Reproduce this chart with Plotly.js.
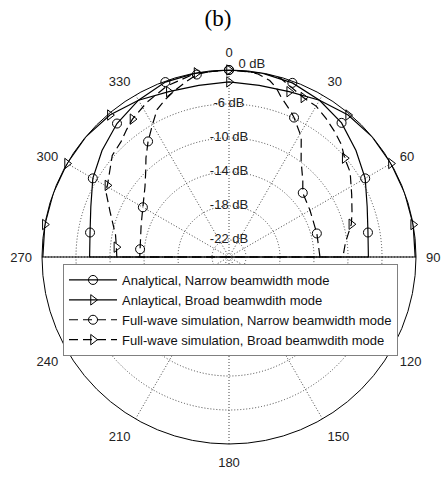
<!DOCTYPE html>
<html>
<head>
<meta charset="utf-8">
<script src="https://cdn.plot.ly/plotly-3.0.1.min.js"></script>
<style>html,body{margin:0;padding:0;background:#fff;}#chart{width:443px;height:477px;}</style>
</head>
<body>
<div id="chart"></div>
<script>
// Radial unit: 0 = centre, 22 = outer ring (labelled 0 dB). Ring labels are MATLAB-style.
const ringVals   = [2, 6, 10, 14, 18];
const ringLabels = ['-22 dB', '-18 dB', '-14 dB', '-10 dB', '-6 dB'];
const topLabel   = {text: '0 dB', r: 22, theta: 7};
const angleTicks  = [0, 30, 60, 90, 120, 150, 180, 210, 240, 270, 300, 330];
const angleLabels = ['0', '30', '60', '90', '120', '150', '180', '210', '240', '270', '300', '330'];

// Analytical, Narrow beamwidth mode (points at theta beyond +-90 fall to the centre)
const anaNarrowTheta = [-90, -90, -80, -70, -60, -50, -40, -30, -20, -10, 0, 10, 20, 30, 40, 50, 60, 70, 80, 90, 90];
const anaNarrowR     = [0, 16.4, 16.6, 17.3, 18.5, 19.5, 20.5, 21.3, 21.9, 22, 22, 22, 21.8, 21.3, 20.6, 19.5, 18.5, 17.3, 16.6, 16.4, 0];
const anaNarrowMarks = [2, 4, 6, 8, 10, 12, 14, 16, 18];

// Anlaytical, Broad beamwdith mode
const anaBroadTheta = [-90, -90, -80, -70, -60, -50, -40, -30, -20, -10, 0, 10, 20, 30, 40, 50, 60, 70, 80, 90, 90];
const anaBroadR     = [0, 21.9, 22, 22, 22, 22, 21.8, 21.3, 20.7, 20.5, 20.6, 20.5, 20.7, 21.3, 21.8, 22, 22, 22, 22, 21.9, 0];
const anaBroadMarks = [2, 4, 6, 8, 10, 12, 14, 16, 18];

// Full-wave simulation, Narrow beamwidth mode
const fwNarrowTheta = [-90, -90, -85, -70, -60, -50, -44, -40, -35, -30, -26, -22, -18, -14, -10, -5, 0, 5, 9, 13, 15.5, 18, 23, 25, 31, 37, 44, 49, 60, 75, 90, 90];
const fwNarrowR     = [0, 10.5, 10.5, 11.0, 11.7, 12.9, 14.1, 15.2, 16.6, 18.0, 19.3, 20.0, 20.6, 21.2, 21.8, 22, 22, 22, 21.8, 21.3, 20.7, 19.8, 18.6, 18.1, 16.5, 14.1, 12.5, 11.5, 11.0, 10.7, 10.7, 0];
const fwNarrowMarks = [2, 4, 8, 14, 16, 23, 27, 29];

// Full-wave simulation, Broad beamwdith mode
const fwBroadTheta = [-90, -90, -85, -79, -69, -62, -59.5, -49, -43, -39, -35, -28, -20, -10, 0, 11, 16, 20, 25, 30, 35, 40, 45, 49.5, 55, 63, 70, 75, 83, 90, 90];
const fwBroadR     = [0, 13.2, 13.3, 13.6, 15.0, 16.4, 16.6, 18.2, 18.6, 19.2, 19.8, 20.6, 21.4, 22, 22, 22, 21.9, 21.3, 20.7, 20.5, 19.9, 19.3, 18.7, 17.9, 17.4, 16.2, 15.4, 14.9, 13.8, 13.4, 0];
const fwBroadMarks = [2, 6, 10, 13, 14, 18, 23, 27];

const seriesNames = [
  'Analytical, Narrow beamwidth mode',
  'Anlaytical, Broad beamwdith mode',
  'Full-wave simulation, Narrow beamwidth mode',
  'Full-wave simulation, Broad beamwdith mode'
];

const series = [
  {th: anaNarrowTheta, r: anaNarrowR, mk: anaNarrowMarks, sym: 'circle-open', dash: 'solid'},
  {th: anaBroadTheta, r: anaBroadR, mk: anaBroadMarks, sym: 'triangle-right-open', dash: 'solid'},
  {th: fwNarrowTheta, r: fwNarrowR, mk: fwNarrowMarks, sym: 'circle-open', dash: '9px,5px'},
  {th: fwBroadTheta, r: fwBroadR, mk: fwBroadMarks, sym: 'triangle-right-open', dash: '9px,5px'}
];

const FONT = 'Liberation Sans, Arial, Helvetica, sans-serif';
const traces = [];
series.forEach(function (s, i) {
  traces.push({
    type: 'scatterpolar', mode: 'lines', theta: s.th, r: s.r,
    line: {color: '#000', width: 1.2, dash: s.dash}, showlegend: false, hoverinfo: 'skip', cliponaxis: false
  });
  traces.push({
    type: 'scatterpolar', mode: 'markers',
    theta: s.mk.map(function (k) { return s.th[k]; }),
    r: s.mk.map(function (k) { return s.r[k]; }),
    marker: {symbol: s.sym, size: 9, color: '#000', line: {width: 1, color: '#000'}},
    showlegend: false, hoverinfo: 'skip', cliponaxis: false
  });
});
series.forEach(function (s, i) {
  traces.push({
    type: 'scatterpolar', mode: 'lines+markers', theta: [null], r: [null], name: seriesNames[i],
    line: {color: '#000', width: 1.2, dash: s.dash},
    marker: {symbol: s.sym, size: 9, color: '#000', line: {width: 1, color: '#000'}},
    showlegend: true
  });
});
traces.push({
  type: 'scatterpolar', mode: 'text',
  theta: ringVals.map(function () { return 0; }),
  r: ringVals,
  text: ringLabels,
  textposition: 'middle center',
  textfont: {family: FONT, size: 13, color: '#222'},
  showlegend: false, hoverinfo: 'skip', cliponaxis: false
});
traces.push({
  type: 'scatterpolar', mode: 'text',
  theta: [topLabel.theta], r: [topLabel.r], text: [topLabel.text],
  textposition: 'top center',
  textfont: {family: FONT, size: 13, color: '#222'},
  showlegend: false, hoverinfo: 'skip', cliponaxis: false
});

const layout = {
  width: 443, height: 477,
  margin: {l: 0, r: 0, t: 0, b: 0},
  paper_bgcolor: '#fff',
  showlegend: true,
  title: {
    text: '(b)', x: 218 / 443, xref: 'container', y: 1 - 18 / 477, yref: 'container',
    xanchor: 'center', yanchor: 'middle',
    font: {family: 'Liberation Serif, Times New Roman, serif', size: 23, color: '#000'}
  },
  polar: {
    domain: {x: [42 / 443, 416 / 443], y: [33 / 477, 407 / 477]},
    bgcolor: '#fff',
    angularaxis: {
      rotation: 90, direction: 'clockwise',
      tickmode: 'array', tickvals: angleTicks, ticktext: angleLabels,
      ticks: 'outside', ticklen: 7, tickcolor: 'rgba(0,0,0,0)',
      showline: true, linecolor: '#000', linewidth: 1,
      showgrid: true, gridcolor: '#444', griddash: '1px,2px', gridwidth: 1,
      tickfont: {family: FONT, size: 13, color: '#222'}
    },
    radialaxis: {
      range: [0, 22], tickmode: 'array', tickvals: ringVals,
      showticklabels: false, ticks: '', showline: false,
      showgrid: true, gridcolor: '#444', griddash: '1px,2px', gridwidth: 1
    }
  },
  legend: {
    x: 63 / 443, y: 1 - 264 / 477, xanchor: 'left', yanchor: 'top',
    bgcolor: '#fff', bordercolor: '#808080', borderwidth: 1,
    font: {family: FONT, size: 13, color: '#111'},
    itemwidth: 48, tracegroupgap: 0
  }
};

Plotly.newPlot('chart', traces, layout, {staticPlot: true, displayModeBar: false});
</script>
</body>
</html>
